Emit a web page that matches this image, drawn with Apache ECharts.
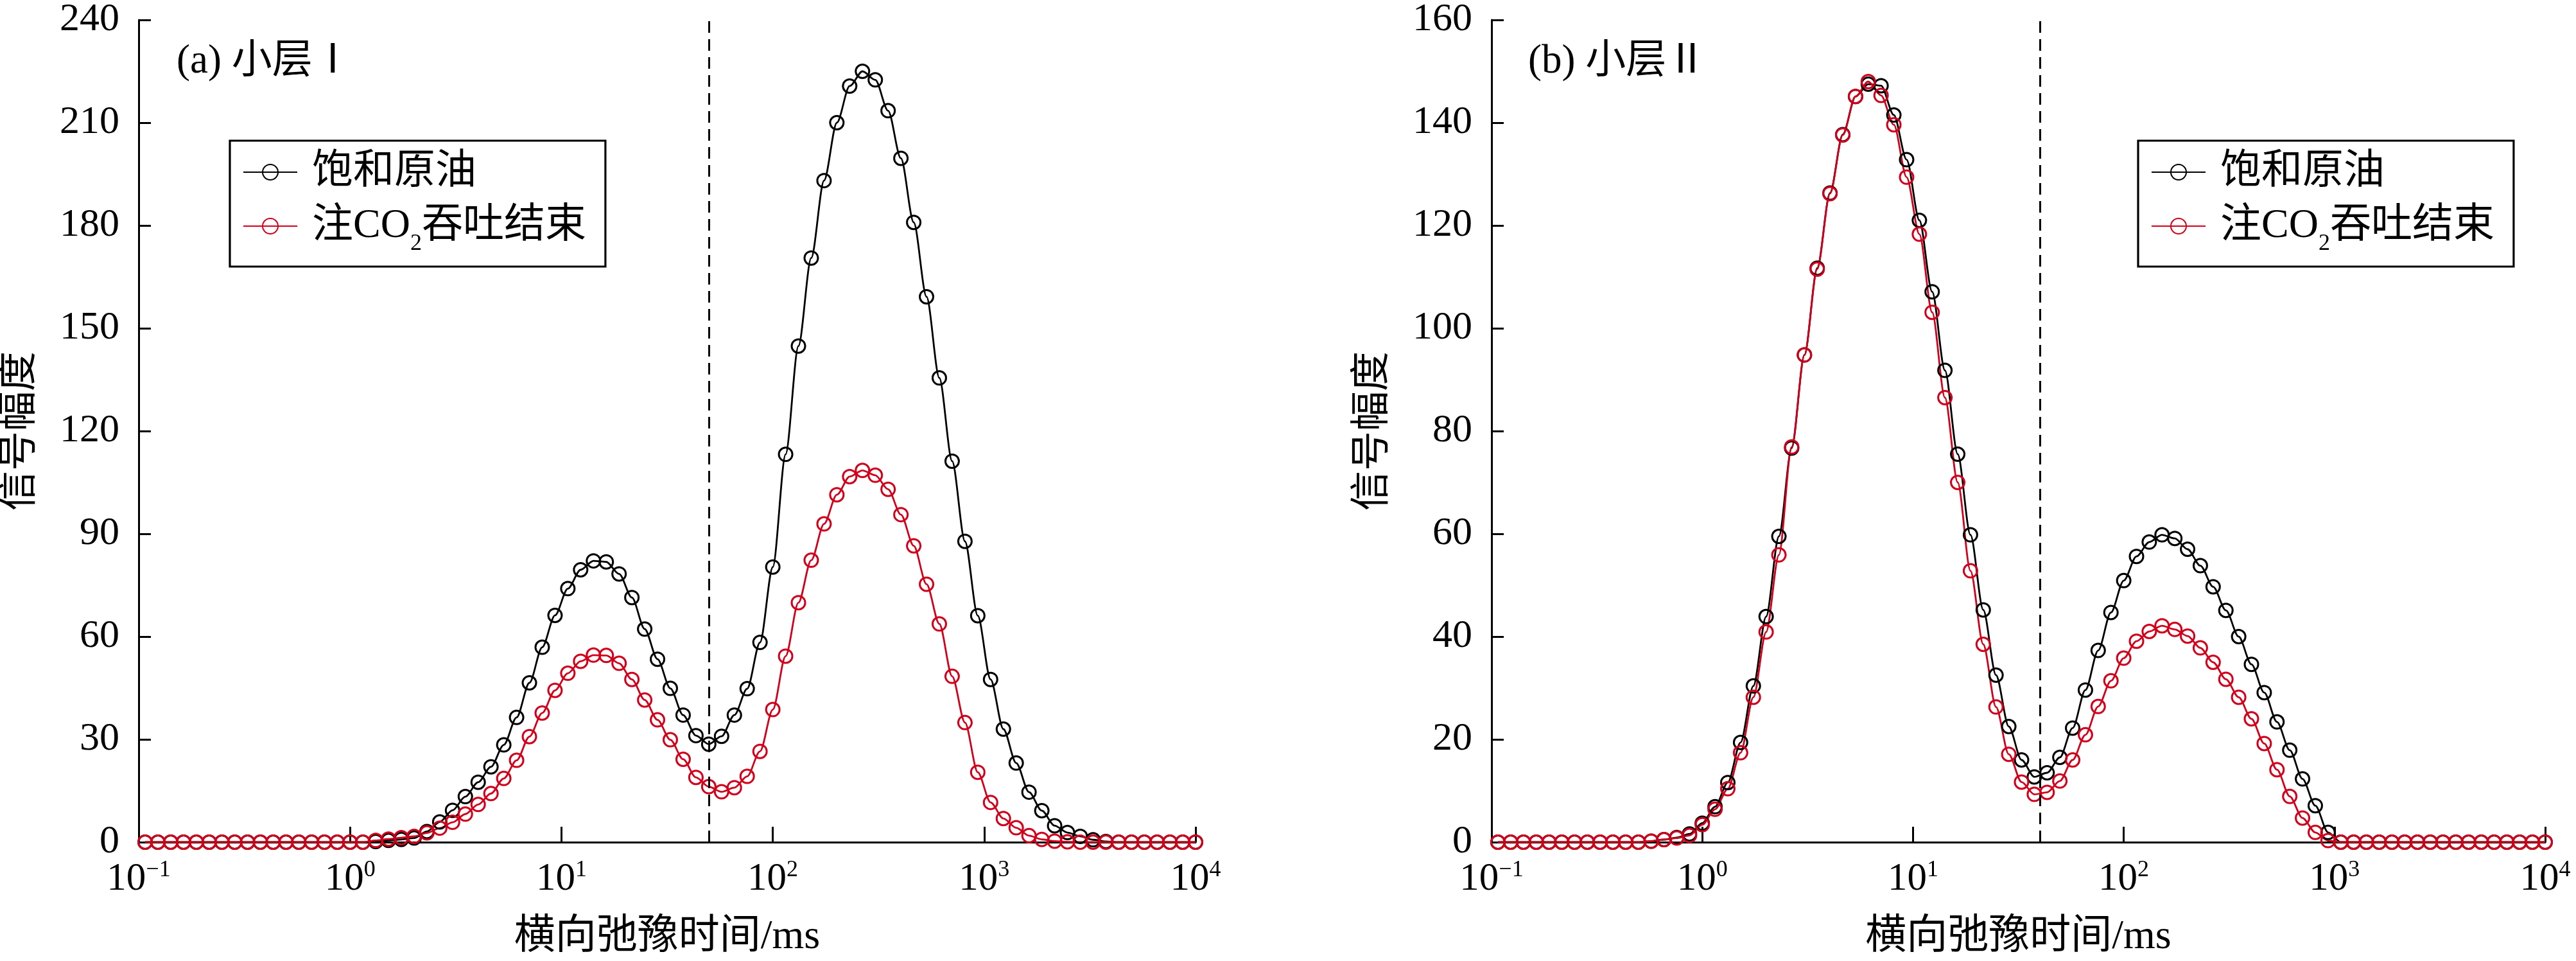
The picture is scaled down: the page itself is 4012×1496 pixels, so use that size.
<!DOCTYPE html>
<html>
<head>
<meta charset="utf-8">
<script src="https://cdn.jsdelivr.net/npm/echarts@6/dist/echarts.min.js"></script>
<style>
  html, body { margin: 0; padding: 0; background: #fff; }
  #chart { width: 4012px; height: 1496px; }
</style>
</head>
<body>
<div id="chart"></div>
<script>
// T2 grid of the NMR inversion (ms), points shown between 0.1 and 10000
var t2 = [
  0.10723, 0.12328, 0.14175, 0.16298, 0.18738, 0.21544, 0.24771, 0.28480, 0.32745, 0.37649,
  0.43288, 0.49770, 0.57224, 0.65793, 0.75646, 0.86975, 1, 1.1498, 1.3219, 1.5199,
  1.7475, 2.0092, 2.3101, 2.6561, 3.0539, 3.5112, 4.0370, 4.6416, 5.3367, 6.1359,
  7.0548, 8.1113, 9.3260, 10.723, 12.328, 14.175, 16.298, 18.738, 21.544, 24.771,
  28.480, 32.745, 37.649, 43.288, 49.770, 57.224, 65.793, 75.646, 86.975, 100,
  114.98, 132.19, 151.99, 174.75, 200.92, 231.01, 265.61, 305.39, 351.12, 403.70,
  464.16, 533.67, 613.59, 705.48, 811.13, 932.60, 1072.3, 1232.8, 1417.5, 1629.8,
  1873.8, 2154.4, 2477.1, 2848.0, 3274.5, 3764.9, 4328.8, 4977.0, 5722.4, 6579.3,
  7564.6, 8697.5, 10000
];

// (a) 小层Ⅰ
var satA = [
  0, 0, 0, 0, 0, 0, 0, 0, 0, 0,
  0, 0, 0, 0, 0, 0, 0, 0, 0.2, 0.5,
  0.8, 1.2, 3.1, 5.9, 9.3, 13.3, 17.5, 22.0, 28.4, 36.4,
  46.5, 56.9, 66.2, 74.0, 79.5, 82.1, 81.8, 78.3, 71.4, 62.2,
  53.4, 44.9, 37.1, 31.1, 28.6, 30.9, 37.1, 44.8, 58.3, 80.3,
  113.2, 144.8, 170.5, 193.1, 210.0, 220.7, 225.0, 222.5, 213.5, 199.6,
  180.9, 159.2, 135.5, 111.2, 87.8, 66.1, 47.5, 33.0, 23.1, 14.6,
  9.2, 4.8, 2.8, 1.7, 0.7, 0.2, 0, 0, 0, 0,
  0, 0, 0
];
var co2A = [
  0, 0, 0, 0, 0, 0, 0, 0, 0, 0,
  0, 0, 0, 0, 0, 0, 0, 0, 0.5, 0.9,
  1.3, 1.7, 2.7, 4.1, 5.8, 8.2, 11.0, 14.2, 18.6, 23.9,
  30.8, 37.7, 44.3, 49.3, 52.8, 54.6, 54.5, 52.2, 47.5, 41.5,
  35.7, 29.9, 24.2, 18.9, 16.2, 14.7, 15.9, 19.2, 26.5, 38.7,
  54.3, 69.9, 82.3, 92.9, 101.4, 106.7, 108.5, 107.1, 103.0, 95.6,
  86.5, 75.3, 63.7, 48.4, 34.9, 20.4, 11.6, 6.9, 4.2, 1.9,
  0.8, 0.3, 0.1, 0, 0, 0, 0, 0, 0, 0,
  0, 0, 0
];

// (b) 小层Ⅱ
var satB = [
  0, 0, 0, 0, 0, 0, 0, 0, 0, 0,
  0, 0, 0.2, 0.5, 0.9, 1.6, 3.7, 6.9, 11.6, 19.4,
  30.4, 43.9, 59.5, 76.7, 94.8, 111.7, 126.3, 137.7, 145.1, 147.5,
  147.2, 141.5, 132.8, 121.0, 107.1, 91.8, 75.5, 59.8, 45.2, 32.5,
  22.5, 16.0, 12.7, 13.5, 16.5, 22.2, 29.6, 37.3, 44.7, 50.9,
  55.6, 58.4, 59.8, 59.1, 57.0, 53.8, 49.7, 45.1, 40.0, 34.6,
  29.1, 23.4, 17.9, 12.3, 7.1, 1.9, 0, 0, 0, 0,
  0, 0, 0, 0, 0, 0, 0, 0, 0, 0,
  0, 0, 0
];
var co2B = [
  0, 0, 0, 0, 0, 0, 0, 0, 0, 0,
  0, 0, 0.2, 0.5, 0.8, 1.3, 3.4, 6.4, 10.4, 17.4,
  28.2, 40.9, 55.9, 76.9, 94.8, 111.5, 126.2, 137.6, 145.1, 148.0,
  145.3, 139.6, 129.4, 118.3, 103.1, 86.5, 70.0, 52.8, 38.5, 26.3,
  17.1, 11.7, 9.3, 9.7, 11.9, 16.0, 20.9, 26.4, 31.4, 35.8,
  39.1, 41.0, 42.1, 41.4, 40.1, 37.8, 35.0, 31.7, 28.2, 24.0,
  19.2, 14.1, 8.9, 4.7, 1.9, 0.3, 0, 0, 0, 0,
  0, 0, 0, 0, 0, 0, 0, 0, 0, 0,
  0, 0, 0
];

var cutoffs = [50, 40];          // 虚线位置 (ms)
var yMax = [240, 160];
var yStep = [30, 20];
var panelTitles = ['(a) 小层Ⅰ', '(b) 小层Ⅱ'];
var names = ['饱和原油', '注CO2吞吐结束'];

var FONT = '"Liberation Serif", "Noto Sans CJK SC", serif';
var BLACK = '#000000';
var RED = '#d2001a';
var CLEAR = 'rgba(0,0,0,0)';

function pairs(ys) {
  return ys.map(function (v, k) { return [t2[k], v]; });
}

function xAxisCfg(idx) {
  return {
    type: 'log', logBase: 10, min: 0.1, max: 10000, gridIndex: idx,
    name: '横向弛豫时间/ms', nameLocation: 'middle', nameGap: 116,
    nameTextStyle: { fontSize: 64, fontFamily: FONT, color: '#000' },
    axisLine: { onZero: false, lineStyle: { color: '#000', width: 3 } },
    axisTick: { inside: true, length: 24, lineStyle: { color: '#000', width: 3 } },
    minorTick: { show: false },
    splitLine: { show: false },
    axisLabel: {
      margin: 26,
      formatter: function (v) {
        var e = Math.round(Math.log(v) / Math.LN10);
        return '{b|10}{sup|' + (e < 0 ? '\u2212' + (-e) : e) + '}';
      },
      rich: {
        b: { fontSize: 61, fontFamily: FONT, color: '#000', lineHeight: 64 },
        sup: { fontSize: 36, fontFamily: FONT, color: '#000', verticalAlign: 'top', lineHeight: 40 }
      }
    }
  };
}

function yAxisCfg(idx) {
  return {
    type: 'value', min: 0, max: yMax[idx], interval: yStep[idx], gridIndex: idx,
    name: '信号幅度', nameLocation: 'middle', nameGap: 152,
    nameTextStyle: { fontSize: 62, fontFamily: FONT, color: '#000' },
    axisLine: { show: true, onZero: false, lineStyle: { color: '#000', width: 3 } },
    axisTick: { show: true, inside: true, length: 19, lineStyle: { color: '#000', width: 3 } },
    splitLine: { show: false },
    axisLabel: { margin: 30, fontSize: 62, fontFamily: FONT, color: '#000' }
  };
}

function seriesCfg(name, color, ys, idx, withCut) {
  var s = {
    name: name, type: 'line', xAxisIndex: idx, yAxisIndex: idx,
    data: pairs(ys),
    symbol: 'circle', symbolSize: 21, showAllSymbol: true,
    smooth: 0.3, smoothMonotone: 'x',
    itemStyle: { color: CLEAR, borderColor: color, borderWidth: 3 },
    lineStyle: { color: color, width: 2.8 },
    emphasis: { disabled: true }
  };
  if (withCut) {
    s.markLine = {
      silent: true, symbol: 'none', animation: false,
      label: { show: false },
      lineStyle: { color: '#000', width: 3, type: [18, 10] },
      data: [{ xAxis: cutoffs[idx] }]
    };
  }
  return s;
}

function legendCfg(left) {
  return {
    orient: 'vertical', left: left, top: 219,
    data: names,
    padding: [17, 30, 17, 20],
    itemGap: 20, itemWidth: 84, itemHeight: 30,
    borderColor: '#000', borderWidth: 3.2,
    textStyle: { color: '#000', padding: [0, 0, 0, 18], rich: {
      t: { fontSize: 64, fontFamily: FONT, color: '#000', lineHeight: 68 },
      sub: { fontSize: 36, fontFamily: FONT, color: '#000', verticalAlign: 'bottom', lineHeight: 36, padding: [0, 0, -12, 0] }
    } },
    formatter: function (n) {
      if (n === names[1]) return '{t|注CO}{sub|2}{t|吞吐结束}';
      return '{t|' + n + '}';
    }
  };
}

var chart = echarts.init(document.getElementById('chart'));
var option = {
  animation: false,
  backgroundColor: '#fff',
  title: [
    { text: panelTitles[0], left: 270, top: 60, textStyle: { fontSize: 63, fontWeight: 'normal', fontFamily: FONT, color: '#000' } },
    { text: panelTitles[1], left: 2375, top: 60, textStyle: { fontSize: 63, fontWeight: 'normal', fontFamily: FONT, color: '#000' } }
  ],
  legend: [legendCfg(358), legendCfg(3330)],
  grid: [
    { left: 216, top: 26, width: 1646, height: 1285 },
    { left: 2323, top: 26, width: 1641, height: 1285 }
  ],
  xAxis: [xAxisCfg(0), xAxisCfg(1)],
  yAxis: [yAxisCfg(0), yAxisCfg(1)],
  series: [
    seriesCfg(names[0], BLACK, satA, 0, true),
    seriesCfg(names[1], RED, co2A, 0, false),
    seriesCfg(names[0], BLACK, satB, 1, true),
    seriesCfg(names[1], RED, co2B, 1, false)
  ]
};
chart.setOption(option);
</script>
</body>
</html>
